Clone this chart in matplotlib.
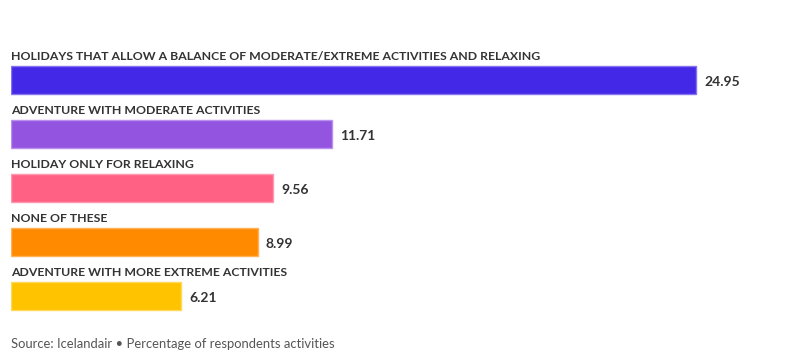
import matplotlib
matplotlib.use("Agg")
import matplotlib.pyplot as plt
import matplotlib.colors as mcolors

categories = [
    "HOLIDAYS THAT ALLOW A BALANCE OF MODERATE/EXTREME ACTIVITIES AND RELAXING",
    "ADVENTURE WITH MODERATE ACTIVITIES",
    "HOLIDAY ONLY FOR RELAXING",
    "NONE OF THESE",
    "ADVENTURE WITH MORE EXTREME ACTIVITIES",
]
values = [24.95, 11.71, 9.56, 8.99, 6.21]
colors = ["#4328E7", "#9354E0", "#FF6185", "#FF8A00", "#FFC300"]
source = "Source: Icelandair \u2022 Percentage of respondents activities"

plt.rcParams["font.family"] = ["Lato", "DejaVu Sans"]

W, H = 796, 363
fig = plt.figure(figsize=(W / 100, H / 100), dpi=100)
left_px = 11
ax = fig.add_axes([left_px / W, 0, 1 - left_px / W, 1])

px_per_unit = 685 / 24.95
step = 54.0
first_center = 80.0
bar_h = 28 / step
ax.set_xlim(0, (W - left_px) / px_per_unit)
ax.set_ylim((H - first_center) / step, -first_center / step)
ax.axis("off")

for i, (cat, val, col) in enumerate(zip(categories, values, colors)):
    edge = mcolors.to_rgb(col)
    edge = tuple(c + (1 - c) * 0.35 for c in edge)
    ax.barh(i, val, height=bar_h, color=col, edgecolor=edge, linewidth=1.0)
    ax.text(0, i - bar_h / 2 - 3.5 / step, cat, ha="left", va="bottom",
            fontsize=8.8, fontweight="bold", color="#333333")
    ax.text(val + 8 / px_per_unit, i + 2 / step, f"{val:.2f}", ha="left", va="center",
            fontsize=10, fontweight="bold", color="#333333")

fig.text(left_px / W, 1 - 344 / H, source, ha="left", va="center",
         fontsize=9.4, color="#555555")

fig.savefig("out.png", dpi=100)
